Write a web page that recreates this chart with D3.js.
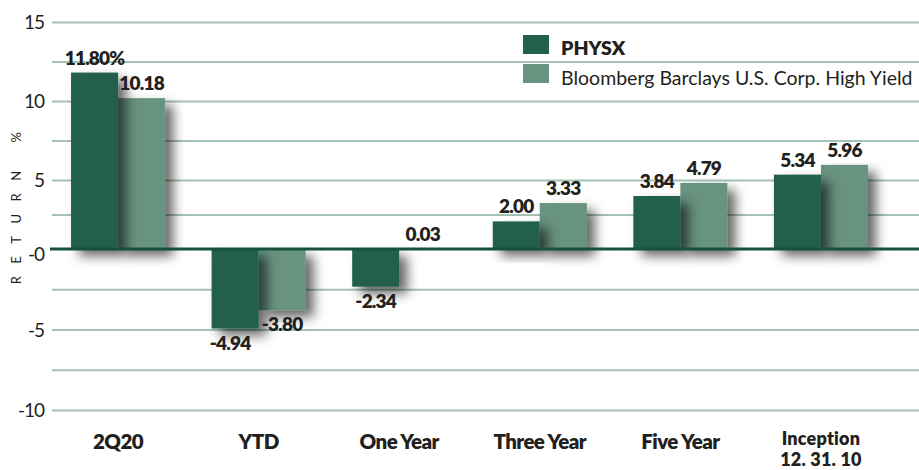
<!DOCTYPE html>
<html><head><meta charset="utf-8">
<script src="https://cdn.jsdelivr.net/npm/d3@7"></script>
<style>
html,body{margin:0;padding:0;background:#fff;}
svg{display:block;font-family:Lato,"Open Sans",sans-serif;}
</style></head>
<body><svg id="chart" width="919" height="470"></svg>
<script>
const categories = ["2Q20","YTD","One Year","Three Year","Five Year","Inception|12. 31. 10"];
const seriesNames = ["PHYSX","Bloomberg Barclays U.S. Corp. High Yield"];
const physx = [11.80,-4.94,-2.34,2.00,3.84,5.34];
const benchmark = [10.18,-3.80,0.03,3.33,4.79,5.96];
const physxLabels = ["11.80%","-4.94","-2.34","2.00","3.84","5.34"];
const benchmarkLabels = ["10.18","-3.80","0.03","3.33","4.79","5.96"];
const yTickValues = [15,10,5,0,-5,-10];
const yTickLabels = ["15","10","5","-0","-5","-10"];
const gridValues = [15,12.5,10,7.5,5,2.5,-2.5,-5,-7.5,-10];

const colors = ["#22614e","#68937f"];
const svg = d3.select("#chart");

const defs = svg.append("defs");
const f = defs.append("filter").attr("id","shadow").attr("x","-30%").attr("y","-30%").attr("width","180%").attr("height","180%");
f.append("feDropShadow").attr("dx",8).attr("dy",7).attr("stdDeviation",6).attr("flood-color","#000").attr("flood-opacity",0.6);

const x = d3.scaleBand().domain(categories).range([47.7,891.3]).paddingInner(0.331).paddingOuter(0.166);
const xs = d3.scaleBand().domain([0,1]).range([0,x.bandwidth()]);
const y = d3.scaleLinear().domain([-10,0,5,15]).range([410,249,180,22]);

// gridlines
const grid = svg.append("g").attr("transform","translate(52,0)")
  .call(d3.axisLeft(y).tickValues(gridValues).tickSize(-867).tickFormat(""));
grid.select(".domain").remove();
grid.selectAll(".tick line").attr("stroke","#a3c2b4").attr("stroke-width",2);

// y tick labels
const ya = svg.append("g").attr("transform","translate(44,0)")
  .call(d3.axisLeft(y).tickValues(yTickValues).tickSize(0).tickPadding(0)
    .tickFormat((d,i)=>yTickLabels[yTickValues.indexOf(d)]));
ya.select(".domain").remove();
ya.selectAll("text").attr("font-family","Lato, sans-serif").attr("font-size",19).attr("fill","#231f20")
  .attr("dy",d=>d===0?"0.62em":"0.35em").attr("letter-spacing",-1);

// y title
svg.append("text").attr("transform","translate(21,202) rotate(-90)")
  .attr("text-anchor","middle").attr("font-size",13).attr("fill","#231f20")
  .attr("letter-spacing",12.5).text("RETURN  %");

// bars: benchmark first, then PHYSX (shadow overlaps benchmark)
const series = [physx, benchmark];
const labels = [physxLabels, benchmarkLabels];
[1,0].forEach(s=>{
  svg.append("g").selectAll("rect").data(series[s]).join("rect")
    .attr("x",(d,i)=>x(categories[i])+xs(s))
    .attr("width",xs.bandwidth())
    .attr("y",d=>y(Math.max(0,d)))
    .attr("height",d=>Math.abs(y(d)-y(0)))
    .attr("fill",colors[s])
    .attr("filter","url(#shadow)");
});

// zero line
svg.append("line").attr("x1",50).attr("x2",919).attr("y1",y(0)).attr("y2",y(0))
  .attr("stroke","#16513d").attr("stroke-width",3);

// value labels
[0,1].forEach(s=>{
  svg.append("g").selectAll("text").data(series[s]).join("text")
    .attr("x",(d,i)=>x(categories[i])+xs(s)+xs.bandwidth()/2 + (s===0 && i===1 ? -5 : 0))
    .attr("y",d=> d>=0 ? y(d)-8 : y(d)+21)
    .attr("text-anchor","middle").attr("font-weight",800).attr("font-size",19)
    .attr("fill","#231f20").attr("letter-spacing",-0.8)
    .text((d,i)=>labels[s][i]);
});

// category labels
const cg = svg.append("g");
categories.forEach((c,i)=>{
  const parts = c.split("|");
  const multi = parts.length>1;
  parts.forEach((p,j)=>{
    cg.append("text").attr("x",x(c)+x.bandwidth()/2).attr("y",multi ? 444.5+j*21.5 : 449)
      .attr("text-anchor","middle").attr("font-weight",800).attr("font-size",multi?18:20.5)
      .attr("fill","#231f20").attr("letter-spacing",multi?0.2:-0.6).text(p);
  });
});

// legend
const lg = svg.append("g");
seriesNames.forEach((n,i)=>{
  lg.append("rect").attr("x",523).attr("y",35+i*29).attr("width",26).attr("height",19).attr("fill",colors[i]);
  lg.append("text").attr("x",561).attr("y",55+i*30).attr("font-size",19.5)
    .attr("font-weight",i===0?800:"normal").attr("fill","#231f20").text(n);
});
</script></body></html>
